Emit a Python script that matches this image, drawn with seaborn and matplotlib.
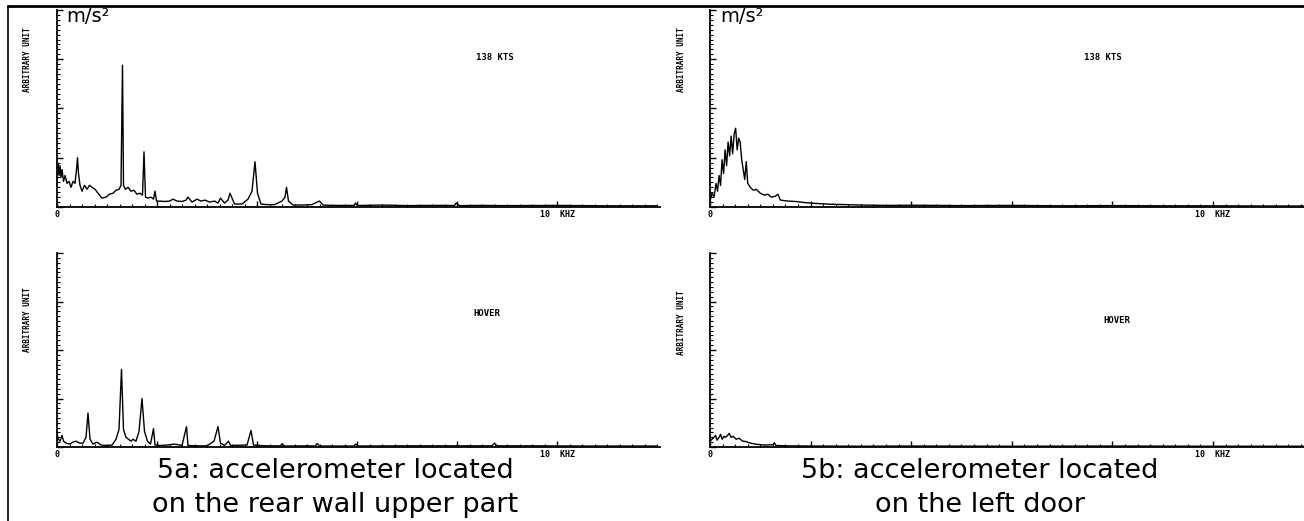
import matplotlib
matplotlib.use('Agg')
import matplotlib.pyplot as plt
import seaborn as sns
from matplotlib.ticker import FixedLocator, FixedFormatter, MultipleLocator
from matplotlib.lines import Line2D

# 5a, 138 kts (rear wall upper part)
freq_5a_138 = [0.00, 0.02, 0.04, 0.06, 0.08, 0.10, 0.13, 0.16, 0.20, 0.24,
               0.28, 0.32, 0.36, 0.39, 0.41, 0.43, 0.46, 0.50, 0.55, 0.60,
               0.65, 0.70, 0.76, 0.82, 0.90, 0.98, 1.05, 1.12, 1.18, 1.24,
               1.28, 1.31, 1.33, 1.37, 1.42, 1.48, 1.54, 1.60, 1.66, 1.71,
               1.74, 1.77, 1.82, 1.88, 1.93, 1.96, 1.99, 2.05, 2.15, 2.25,
               2.32, 2.40, 2.50, 2.58, 2.62, 2.70, 2.80, 2.88, 2.96, 3.05,
               3.15, 3.22, 3.27, 3.35, 3.42, 3.46, 3.55, 3.70, 3.82, 3.90,
               3.96, 4.01, 4.08, 4.20, 4.35, 4.50, 4.56, 4.59, 4.63, 4.72,
               4.90, 5.10, 5.20, 5.25, 5.32, 5.50, 5.80, 5.94, 5.97, 6.00,
               6.10, 6.50, 7.00, 7.50, 7.95, 7.98, 8.05, 8.50, 9.00, 10.00,
               11.00, 12.00]
amp_5a_138 = [0.20, 0.22, 0.16, 0.21, 0.15, 0.19, 0.13, 0.16, 0.12, 0.13,
              0.10, 0.13, 0.12, 0.19, 0.25, 0.17, 0.11, 0.08, 0.11, 0.09,
              0.11, 0.10, 0.09, 0.07, 0.045, 0.05, 0.065, 0.07, 0.085, 0.09,
              0.11, 0.72, 0.11, 0.09, 0.10, 0.08, 0.085, 0.065, 0.07, 0.06,
              0.28, 0.05, 0.045, 0.05, 0.04, 0.08, 0.03, 0.03, 0.028, 0.03,
              0.04, 0.03, 0.028, 0.035, 0.05, 0.025, 0.04, 0.03, 0.035, 0.025,
              0.03, 0.02, 0.045, 0.02, 0.035, 0.07, 0.015, 0.015, 0.04, 0.08,
              0.23, 0.07, 0.015, 0.012, 0.012, 0.03, 0.05, 0.10, 0.03, 0.01,
              0.01, 0.012, 0.025, 0.03, 0.01, 0.008, 0.008, 0.008, 0.02, 0.008,
              0.008, 0.01, 0.007, 0.008, 0.008, 0.02, 0.007, 0.008, 0.007, 0.008,
              0.006, 0.006]

# 5b, 138 kts (left door)
freq_5b_138 = [0.00, 0.04, 0.08, 0.12, 0.15, 0.18, 0.21, 0.24, 0.27, 0.30,
               0.33, 0.36, 0.39, 0.42, 0.45, 0.48, 0.51, 0.54, 0.57, 0.60,
               0.63, 0.66, 0.69, 0.72, 0.75, 0.80, 0.86, 0.92, 1.00, 1.08,
               1.15, 1.22, 1.30, 1.35, 1.40, 1.55, 1.70, 1.90, 2.10, 2.40,
               2.70, 3.00, 3.50, 4.00, 5.00, 6.00, 7.00, 8.00, 9.00, 10.00,
               11.00, 11.80]
amp_5b_138 = [0.03, 0.07, 0.05, 0.12, 0.08, 0.16, 0.11, 0.24, 0.17, 0.29,
              0.21, 0.33, 0.26, 0.36, 0.27, 0.37, 0.40, 0.29, 0.35, 0.33,
              0.24, 0.19, 0.14, 0.23, 0.12, 0.10, 0.085, 0.09, 0.07, 0.06,
              0.065, 0.05, 0.055, 0.065, 0.035, 0.03, 0.028, 0.022, 0.018, 0.014,
              0.012, 0.01, 0.008, 0.009, 0.007, 0.008, 0.006, 0.007, 0.006, 0.006,
              0.005, 0.005]

# 5a, hover
freq_5a_hov = [0.00, 0.03, 0.06, 0.10, 0.13, 0.18, 0.25, 0.32, 0.38, 0.45,
               0.52, 0.58, 0.62, 0.66, 0.72, 0.80, 0.88, 1.00, 1.10, 1.18,
               1.24, 1.29, 1.33, 1.38, 1.43, 1.48, 1.52, 1.58, 1.64, 1.70,
               1.75, 1.81, 1.87, 1.93, 1.96, 2.05, 2.20, 2.35, 2.50, 2.59,
               2.62, 2.80, 3.00, 3.14, 3.22, 3.27, 3.35, 3.43, 3.47, 3.80,
               3.88, 3.93, 4.20, 4.47, 4.50, 4.55, 5.00, 5.17, 5.20, 5.25,
               5.94, 5.97, 6.02, 7.00, 8.00, 8.70, 8.75, 8.80, 9.50, 10.50,
               12.00]
amp_5a_hov = [0.07, 0.04, 0.03, 0.06, 0.03, 0.02, 0.015, 0.025, 0.03, 0.02,
              0.02, 0.05, 0.175, 0.04, 0.015, 0.025, 0.01, 0.008, 0.01, 0.04,
              0.09, 0.40, 0.09, 0.05, 0.04, 0.03, 0.04, 0.03, 0.08, 0.25,
              0.08, 0.03, 0.015, 0.095, 0.01, 0.008, 0.01, 0.015, 0.008, 0.105,
              0.008, 0.006, 0.006, 0.03, 0.105, 0.02, 0.008, 0.03, 0.008, 0.01,
              0.085, 0.01, 0.006, 0.006, 0.017, 0.005, 0.006, 0.005, 0.018, 0.005,
              0.005, 0.015, 0.005, 0.006, 0.006, 0.006, 0.02, 0.006, 0.006, 0.005,
              0.005]

# 5b, hover
freq_5b_hov = [0.00, 0.04, 0.08, 0.11, 0.14, 0.18, 0.21, 0.24, 0.28, 0.31,
               0.35, 0.38, 0.42, 0.46, 0.52, 0.58, 0.65, 0.72, 0.80, 0.90,
               1.00, 1.10, 1.25, 1.28, 1.31, 1.50, 2.00, 3.00, 4.00, 6.00,
               8.00, 10.00, 11.80]
amp_5b_hov = [0.03, 0.04, 0.05, 0.06, 0.035, 0.05, 0.065, 0.04, 0.055, 0.05,
              0.06, 0.07, 0.05, 0.055, 0.04, 0.045, 0.03, 0.028, 0.02, 0.015,
              0.012, 0.01, 0.012, 0.022, 0.008, 0.006, 0.005, 0.004, 0.005, 0.004,
              0.005, 0.004, 0.004]

cond_labels = ['138 KTS', 'HOVER']
captions = ['5a: accelerometer located\non the rear wall upper part',
            '5b: accelerometer located\non the left door']

sns.set_style('white')
plt.rcParams['font.family'] = ['DejaVu Sans']
plt.rcParams['text.color'] = 'black'
plt.rcParams['xtick.color'] = 'black'
plt.rcParams['ytick.color'] = 'black'

fig = plt.figure(figsize=(13.04, 5.21), dpi=100)
W, H = 1304, 521

def px_axes(x0, y_top, x1, y_bot):
    return fig.add_axes([x0 / W, 1 - y_bot / H, (x1 - x0) / W, (y_bot - y_top) / H])

panels = [
    (px_axes(57, 10, 660, 207), freq_5a_138, amp_5a_138, 12.06, cond_labels[0], (0.726, 0.76)),
    (px_axes(710, 10, 1304, 207), freq_5b_138, amp_5b_138, 11.81, cond_labels[0], (0.662, 0.76)),
    (px_axes(57, 253, 660, 447), freq_5a_hov, amp_5a_hov, 12.06, cond_labels[1], (0.713, 0.686)),
    (px_axes(710, 253, 1304, 447), freq_5b_hov, amp_5b_hov, 11.81, cond_labels[1], (0.685, 0.65)),
]

mono = 'DejaVu Sans Mono'
for ax, f, a, xmax, lab, pos in panels:
    sns.lineplot(x=f, y=a, ax=ax, color='black', linewidth=1.0)
    ax.set_xlim(0, xmax)
    ax.set_ylim(0, 1)
    for s in ['top', 'right']:
        ax.spines[s].set_visible(False)
    for s in ['left', 'bottom']:
        ax.spines[s].set_linewidth(1.3)
        ax.spines[s].set_color('black')
    ax.xaxis.set_major_locator(FixedLocator([0, 2, 4, 6, 8, 10]))
    ax.xaxis.set_major_formatter(FixedFormatter(['0', '', '', '', '', '10  KHZ']))
    ax.xaxis.set_minor_locator(MultipleLocator(0.25))
    ax.yaxis.set_major_locator(MultipleLocator(0.25))
    ax.yaxis.set_minor_locator(MultipleLocator(0.025))
    ax.set_yticklabels([])
    ax.tick_params(which='major', direction='in', length=4, width=1, color='black',
                   bottom=True, left=True, labelsize=6, pad=2)
    ax.tick_params(which='minor', direction='in', length=2, width=0.8, color='black',
                   bottom=True, left=True)
    for t in ax.get_xticklabels():
        t.set_fontfamily(mono)
        t.set_fontweight('bold')
    ax.text(pos[0], pos[1], lab, transform=ax.transAxes, fontsize=6.5,
            fontfamily=mono, fontweight='bold', ha='center', va='center')
    ax.set_xlabel('')
    ax.set_ylabel('')

# y-axis labels
for xp, yp in [(28, 60), (682, 60), (28, 320), (682, 323)]:
    fig.text(xp / W, 1 - yp / H, 'ARBITRARY UNIT', rotation=90, fontsize=5.5,
             fontfamily=mono, fontweight='bold', ha='center', va='center')

# handwritten units
for xp in [66, 720]:
    fig.text(xp / W, 1 - 22 / H, 'm/s²', fontsize=14, ha='left', va='baseline')

# captions
for xc, cap in zip([335, 980], captions):
    fig.text(xc / W, 1 - 488 / H, cap, fontsize=19.5, ha='center', va='center',
             linespacing=1.35)

# frame lines of the scanned page
fig.add_artist(Line2D([8 / W, 1], [1 - 6 / H, 1 - 6 / H], color='black', linewidth=2))
fig.add_artist(Line2D([8 / W, 8 / W], [0, 1 - 6 / H], color='black', linewidth=1.2))

fig.savefig('out.png', dpi=100, facecolor='white')
